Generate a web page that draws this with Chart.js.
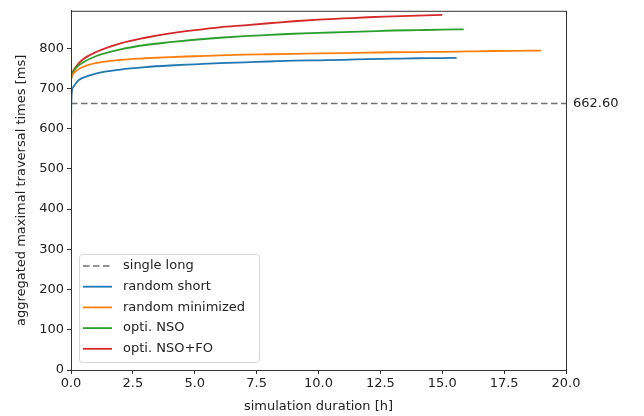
<!DOCTYPE html>
<html>
<head>
<meta charset="utf-8">
<script src="https://cdn.jsdelivr.net/npm/chart.js@4/dist/chart.umd.min.js"></script>
<style>
  html, body { margin: 0; padding: 0; background: #fff; }
  #wrap { width: 644px; height: 416px; }
</style>
</head>
<body>
<div id="wrap"><canvas id="chart" width="644" height="416"></canvas></div>
<script>
// valores
const SINGLE_LONG = 662.60;
const singleX = [0, 20];

const shortX = [0, 0.01, 0.03, 0.1, 0.3, 0.5, 1, 2, 3, 4, 5, 6, 7, 8, 9, 10, 11, 12, 13, 14, 15, 15.58];
const shortY = [585, 650, 688, 704, 720, 727, 737, 747, 753, 757, 760, 763, 765, 767, 769, 770, 771, 773, 774, 775, 775.5, 776];

const minimX = [0, 0.05, 0.2, 0.5, 1, 2, 3, 4, 5, 6, 7, 8, 9, 10, 11, 12, 13, 14, 15, 16, 17, 18, 19];
const minimY = [722, 732, 743, 754, 763, 771, 775, 778, 780, 782, 784, 785, 786, 787, 788, 789, 790, 790.5, 791, 792, 793, 793.5, 794];

const nsoX = [0, 0.05, 0.2, 0.5, 1, 2, 3, 4, 5, 6, 7, 8, 9, 10, 11, 12, 13, 14, 15, 15.87];
const nsoY = [724, 735, 751, 765, 780, 797, 808, 815, 821, 826, 830, 833, 836, 838, 840, 842, 844, 845, 846, 847];

const nsoFoX = [0, 0.05, 0.2, 0.5, 1, 2, 3, 4, 5, 6, 7, 8, 9, 10, 11, 12, 13, 14, 15];
const nsoFoY = [725, 738, 754, 773, 790, 812, 826, 837, 845, 852, 857, 862, 867, 871, 874, 877, 879, 881, 883];

const Y_TICKS = [0, 100, 200, 300, 400, 500, 600, 700, 800];
const X_TICKS = [0, 2.5, 5, 7.5, 10, 12.5, 15, 17.5, 20];

const LABELS = ['single long', 'random short', 'random minimized', 'opti. NSO', 'opti. NSO+FO'];
const COLORS = ['#6f6f6f', '#1f77b4', '#ff7f0e', '#2ca02c', '#d62728'];

const FONT = "'DejaVu Sans', sans-serif";
const INK = '#222';

const pts = (xs, ys) => xs.map((x, i) => ({ x, y: ys[i] }));

const series = [
    pts(singleX, singleX.map(() => SINGLE_LONG)),
    pts(shortX, shortY),
    pts(minimX, minimY),
    pts(nsoX, nsoY),
    pts(nsoFoX, nsoFoY),
];

const datasets = series.map((data, i) => ({
    label: LABELS[i],
    data,
    borderColor: COLORS[i],
    backgroundColor: COLORS[i],
    borderWidth: i === 0 ? 1.7 : 1.8,
    borderDash: i === 0 ? [6.5, 3.5] : [],
    pointRadius: 0,
    fill: false,
    cubicInterpolationMode: 'monotone',
}));

// marco completo + etiqueta de la línea horizontal + leyenda dentro del área
const framePlugin = {
    id: 'frame',
    afterDraw(chart) {
        const { ctx, chartArea: a, scales } = chart;
        ctx.save();
        ctx.strokeStyle = '#333';
        ctx.lineWidth = 1;
        ctx.strokeRect(a.left + 0.5, a.top + 0.5, a.right - a.left, a.bottom - a.top);

        // etiqueta 662.60
        ctx.fillStyle = INK;
        ctx.font = `13px ${FONT}`;
        ctx.textAlign = 'left';
        ctx.textBaseline = 'middle';
        ctx.fillText(SINGLE_LONG.toFixed(2), a.right + 7, scales.y.getPixelForValue(SINGLE_LONG));

        // leyenda
        const bx = a.left + 8, rowH = 20.7, bw = 180, bh = 108;
        const by = a.bottom - 8 - bh;
        ctx.beginPath();
        ctx.roundRect(bx + 0.5, by + 0.5, bw, bh, 3);
        ctx.fillStyle = 'rgba(255,255,255,0.8)';
        ctx.fill();
        ctx.strokeStyle = '#d6d6d6';
        ctx.stroke();
        chart.data.datasets.forEach((ds, i) => {
            const yy = by + 12 + rowH * i;
            ctx.beginPath();
            ctx.setLineDash(ds.borderDash);
            ctx.strokeStyle = ds.borderColor;
            ctx.lineWidth = ds.borderWidth;
            ctx.moveTo(bx + 4, yy);
            ctx.lineTo(bx + 33, yy);
            ctx.stroke();
            ctx.setLineDash([]);
            ctx.fillStyle = INK;
            ctx.fillText(ds.label, bx + 44, yy);
        });
        ctx.restore();
    },
};

new Chart(document.getElementById('chart').getContext('2d'), {
    type: 'line',
    data: { datasets },
    options: {
        responsive: false,
        animation: false,
        layout: { padding: { left: 0, right: 78, top: 3, bottom: 0 } },
        plugins: {
            legend: { display: false },
            tooltip: { enabled: false },
        },
        scales: {
            x: {
                type: 'linear',
                min: 0,
                max: 20,
                afterFit: (s) => { s.height = 46; },
                afterBuildTicks: (s) => { s.ticks = X_TICKS.map(v => ({ value: v })); },
                grid: { drawOnChartArea: false, drawTicks: true, tickLength: 4, color: '#333' },
                border: { display: true, color: '#333' },
                ticks: {
                    padding: 2,
                    color: INK,
                    font: { family: FONT, size: 13 },
                    maxRotation: 0,
                    autoSkip: false,
                    callback: (v) => Number(v).toFixed(1),
                },
                title: {
                    display: true,
                    text: 'simulation duration [h]',
                    color: INK,
                    font: { family: FONT, size: 13 },
                    padding: { top: 0, bottom: 2 },
                },
            },
            y: {
                min: 0,
                max: 893,
                afterFit: (s) => { s.width = 71; },
                afterBuildTicks: (s) => { s.ticks = Y_TICKS.map(v => ({ value: v })); },
                grid: { drawOnChartArea: false, drawTicks: true, tickLength: 4, color: '#333' },
                border: { display: true, color: '#333' },
                ticks: {
                    padding: 3,
                    color: INK,
                    font: { family: FONT, size: 13 },
                    autoSkip: false,
                },
                title: {
                    display: true,
                    text: 'aggregated maximal traversal times [ms]',
                    color: INK,
                    font: { family: FONT, size: 13 },
                    padding: { top: 14, bottom: 4 },
                },
            },
        },
    },
    plugins: [framePlugin],
});
</script>
</body>
</html>
